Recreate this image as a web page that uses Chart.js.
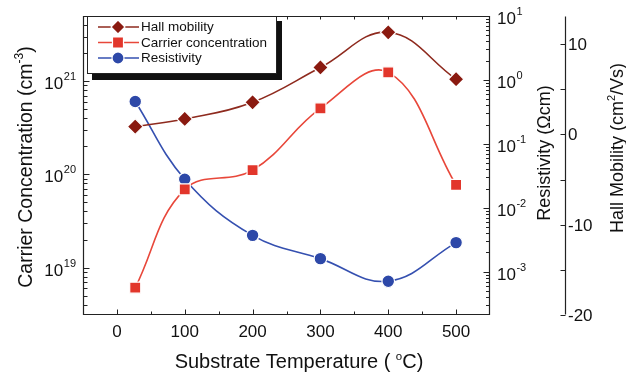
<!DOCTYPE html>
<html><head><meta charset="utf-8">
<script src="https://cdn.jsdelivr.net/npm/chart.js@4.4.1/dist/chart.umd.min.js"></script>
<style>html,body{margin:0;padding:0;background:#fff;}#wrap{width:626px;height:377px;position:relative}</style>
</head><body><div id="wrap"><canvas id="c" width="626" height="377"></canvas></div>
<script>
// ---- data ----
const temperatures = [27, 100, 200, 300, 400, 500];
const hallMobility = [0.85, 1.7, 3.55, 7.4, 11.3, 6.1];
const carrierConcentration = [6.1e18, 6.9e19, 1.11e20, 5.1e20, 1.24e21, 7.7e19];
const resistivity = [0.46, 0.028, 3.7e-3, 1.6e-3, 7.1e-4, 2.85e-3];
const xTickValues = [0, 100, 200, 300, 400, 500];
const carrierTickExponents = [19, 20, 21];
const resistivityTickExponents = [1, 0, -1, -2, -3];
const hallTickValues = [-20, -10, 0, 10];
const seriesNames = ['Hall mobility', 'Carrier concentration', 'Resistivity'];

const FONT = '"Liberation Sans", Arial, Helvetica, sans-serif';
const COL_HALL = '#8a1a10', COL_CARR = '#e2362b', COL_RES = '#2d48a8';
const LINE_HALL = '#8e2a1e', LINE_CARR = '#e8473a', LINE_RES = '#3550b0';

function pts(vals){ return temperatures.map((t,i)=>({x:t,y:vals[i]})); }

function drawRich(ctx, segs, size, supSize, supRise){
  let total = 0;
  const ws = segs.map(s=>{ ctx.font = (s.sup?supSize:size)+'px '+FONT; const w = ctx.measureText(s.t).width; total += w; return w; });
  let x = -total/2;
  ctx.textAlign='left'; ctx.textBaseline='alphabetic';
  segs.forEach((s,i)=>{ ctx.font=(s.sup?supSize:size)+'px '+FONT; ctx.fillText(s.t, x, s.sup?-supRise:0); x += ws[i]; });
}
function drawPow(ctx, exp, x, y, align){
  const bs = 17, ss = 11;
  ctx.font = bs+'px '+FONT; const wb = ctx.measureText('10').width;
  ctx.font = ss+'px '+FONT; const es = String(exp); const we = ctx.measureText(es).width;
  const x0 = align==='right' ? x - wb - we - 0.5 : x;
  ctx.textAlign='left'; ctx.textBaseline='alphabetic';
  ctx.font = bs+'px '+FONT; ctx.fillText('10', x0, y+8);
  ctx.font = ss+'px '+FONT; ctx.fillText(es, x0+wb+0.5, y-1);
}
function marker(ctx, type, x, y, color){
  ctx.save(); ctx.fillStyle=color; ctx.strokeStyle='#fff'; ctx.lineWidth=1.2;
  ctx.beginPath();
  if(type==='d'){ const r=7; ctx.moveTo(x,y-r); ctx.lineTo(x+r,y); ctx.lineTo(x,y+r); ctx.lineTo(x-r,y); ctx.closePath(); }
  else if(type==='s'){ const h=5.5; ctx.rect(x-h,y-h,2*h,2*h); }
  else { ctx.arc(x,y,6,0,Math.PI*2); }
  ctx.fill(); ctx.stroke(); ctx.restore();
}

const deco = {
  id:'deco',
  afterDraw(chart){
    const ctx = chart.ctx, a = chart.chartArea;
    const sx = chart.scales.x, sc = chart.scales.yC, sr = chart.scales.yR, sh = chart.scales.yH;
    const L = Math.round(a.left)+0.5, R = Math.round(a.right)-0.5, T = Math.round(a.top)+0.5, B = Math.round(a.bottom)-0.5;
    ctx.save();
    ctx.strokeStyle='#222'; ctx.lineWidth=1.2; ctx.fillStyle='#222';
    ctx.beginPath(); ctx.rect(L, T, R-L, B-T); ctx.stroke();
    const HX = 565.5;
    ctx.beginPath(); ctx.moveTo(HX, T); ctx.lineTo(HX, B); ctx.stroke();
    ctx.lineWidth=1;
    ctx.beginPath();
    for(let v=0; v<=500; v+=50){
      const px = Math.round(sx.getPixelForValue(v))+0.5;
      const len = (v%100===0)?5:3;
      ctx.moveTo(px,B); ctx.lineTo(px,B-len);
      ctx.moveTo(px,T); ctx.lineTo(px,T+3);
    }
    for(let e=18; e<=21; e++){
      for(let m=1; m<=9; m++){
        const v = m*Math.pow(10,e);
        if(v<sc.min||v>sc.max) continue;
        const py = Math.round(sc.getPixelForValue(v))+0.5;
        ctx.moveTo(L,py); ctx.lineTo(L+(m===1?6:4),py);
      }
    }
    for(let e=-4; e<=1; e++){
      for(let m=1; m<=9; m++){
        const v = m*Math.pow(10,e);
        if(v<sr.min||v>sr.max*1.0001) continue;
        const py = Math.round(sr.getPixelForValue(v))+0.5;
        ctx.moveTo(R,py); ctx.lineTo(R-(m===1?6:3.5),py);
      }
    }
    for(let v=-20; v<=10; v+=5){
      const py = Math.round(sh.getPixelForValue(v))+0.5;
      ctx.moveTo(HX,py); ctx.lineTo(HX-5,py);
    }
    ctx.stroke();

    ctx.fillStyle='#111';
    ctx.font='17px '+FONT; ctx.textAlign='center'; ctx.textBaseline='alphabetic';
    xTickValues.forEach(v=>ctx.fillText(String(v), sx.getPixelForValue(v), 337));
    carrierTickExponents.forEach(e=>drawPow(ctx, e, 76, sc.getPixelForValue(Math.pow(10,e)), 'right'));
    resistivityTickExponents.forEach(e=>drawPow(ctx, e, 497, sr.getPixelForValue(Math.pow(10,e)), 'left'));
    ctx.font='17px '+FONT; ctx.textAlign='left';
    hallTickValues.forEach(v=>ctx.fillText(String(v), 568, sh.getPixelForValue(v)+6));

    ctx.save(); ctx.translate(299, 368);
    drawRich(ctx, [{t:'Substrate Temperature ( '},{t:'o',sup:true},{t:'C)'}], 20, 11.5, 8.5);
    ctx.restore();
    ctx.save(); ctx.translate(32, 167); ctx.rotate(-Math.PI/2);
    drawRich(ctx, [{t:'Carrier Concentration (cm'},{t:'-3',sup:true},{t:')'}], 19.5, 12, 9);
    ctx.restore();
    ctx.save(); ctx.translate(550, 153); ctx.rotate(-Math.PI/2);
    drawRich(ctx, [{t:'Resistivity (\u03A9cm)'}], 18, 11, 8);
    ctx.restore();
    ctx.save(); ctx.translate(623, 148); ctx.rotate(-Math.PI/2);
    drawRich(ctx, [{t:'Hall Mobility (cm'},{t:'2',sup:true},{t:'/Vs)'}], 18, 11, 8);
    ctx.restore();

    ctx.fillStyle='#111'; ctx.fillRect(92, 21, 190, 59);
    ctx.fillStyle='#fff'; ctx.fillRect(87, 16, 190, 58);
    ctx.strokeStyle='#222'; ctx.lineWidth=1; ctx.strokeRect(87.5, 16.5, 189, 57);
    const rows = [[27,'d',COL_HALL,LINE_HALL],[42.5,'s',COL_CARR,LINE_CARR],[58,'c',COL_RES,LINE_RES]];
    rows.forEach((r,i)=>{
      ctx.strokeStyle=r[3]; ctx.lineWidth=1.6;
      ctx.beginPath(); ctx.moveTo(98,r[0]); ctx.lineTo(139,r[0]); ctx.stroke();
      marker(ctx, r[1], 118, r[0], r[2]);
      ctx.fillStyle='#111'; ctx.font='13.5px '+FONT; ctx.textAlign='left'; ctx.textBaseline='middle';
      ctx.fillText(seriesNames[i], 141, r[0]+0.5);
    });
    ctx.restore();
  }
};

new Chart(document.getElementById('c'), {
  type:'line',
  data:{ datasets:[
    {label:seriesNames[1], data:pts(carrierConcentration), yAxisID:'yC', borderColor:LINE_CARR, backgroundColor:COL_CARR,
     pointBackgroundColor:COL_CARR, pointBorderColor:'#fff', pointBorderWidth:1.2, pointStyle:'rect', pointRadius:7.8, borderWidth:1.6, tension:0.4, fill:false},
    {label:seriesNames[0], data:pts(hallMobility), yAxisID:'yH', borderColor:LINE_HALL, backgroundColor:COL_HALL,
     pointBackgroundColor:COL_HALL, pointBorderColor:'#fff', pointBorderWidth:1.2, pointStyle:'rectRot', pointRadius:7.8, borderWidth:1.6, tension:0.4, fill:false},
    {label:seriesNames[2], data:pts(resistivity), yAxisID:'yR', borderColor:LINE_RES, backgroundColor:COL_RES,
     pointBackgroundColor:COL_RES, pointBorderColor:'#fff', pointBorderWidth:1.2, pointStyle:'circle', pointRadius:6.3, borderWidth:1.6, tension:0.4, fill:false}
  ]},
  options:{
    responsive:false, animation:false, devicePixelRatio:1,
    layout:{padding:{top:16,left:0,right:0,bottom:0}},
    plugins:{legend:{display:false}, tooltip:{enabled:false}},
    scales:{
      x:{type:'linear', position:'bottom', min:-50, max:550, bounds:'data', grid:{display:false}, border:{display:false}, ticks:{display:false}, afterFit(s){s.height=62;}},
      yC:{type:'logarithmic', position:'left', min:3.11e18, max:4.98e21, bounds:'data', grid:{display:false}, border:{display:false}, ticks:{display:false}, afterFit(s){s.width=83;}},
      yR:{type:'logarithmic', position:'right', weight:1, min:2.1e-4, max:10, bounds:'data', grid:{display:false}, border:{display:false}, ticks:{display:false}, afterFit(s){s.width=75;}},
      yH:{type:'linear', position:'right', weight:2, min:-20, max:13.1, bounds:'data', grid:{display:false}, border:{display:false}, ticks:{display:false}, afterFit(s){s.width=61;}}
    }
  },
  plugins:[deco]
});
</script></body></html>
